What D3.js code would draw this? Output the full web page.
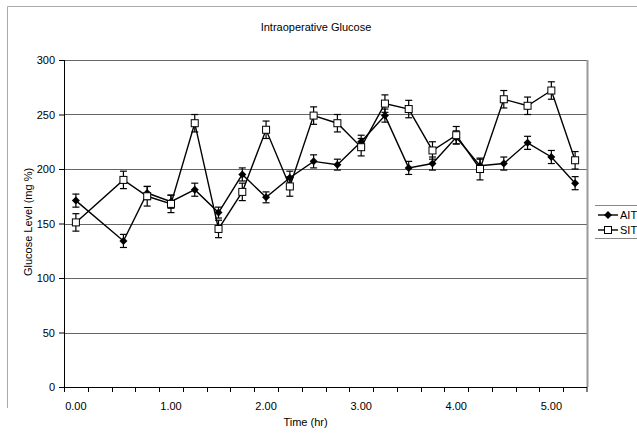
<!DOCTYPE html>
<html>
<head>
<meta charset="utf-8">
<script src="https://cdn.jsdelivr.net/npm/d3@7"></script>
<style>
  body { margin: 0; background: #fff; }
  text { font-family: "Liberation Sans", Arial, sans-serif; fill: #000; }
</style>
</head>
<body>
<div class="chart"></div>
<script>
var svgWidth = 637;
var svgHeight = 438;

// categories (hours) - 0.25 has no reading
var times = ["0.00", "0.25", "0.50", "0.75", "1.00", "1.25", "1.50", "1.75", "2.00", "2.25", "2.50",
             "2.75", "3.00", "3.25", "3.50", "3.75", "4.00", "4.25", "4.50", "4.75", "5.00", "5.25"];
var shownLabels = ["0.00", "1.00", "2.00", "3.00", "4.00", "5.00"];

var aitValues = [171, null, 134, 178, 170, 181, 160, 195, 174, 192, 207, 204, 225, 249, 201, 205, 229, 203, 205, 224, 211, 187];
var aitErrors = [6, null, 6, 6, 6, 6, 5, 6, 5, 6, 6, 5, 6, 6, 6, 6, 6, 6, 6, 6, 6, 6];
var sitValues = [151, null, 190, 175, 168, 242, 145, 179, 236, 184, 249, 242, 220, 260, 255, 217, 231, 200, 264, 258, 272, 208];
var sitErrors = [8, null, 8, 9, 8, 8, 8, 8, 8, 9, 8, 8, 8, 8, 8, 8, 8, 10, 8, 8, 8, 8];

var yTicks = [0, 50, 100, 150, 200, 250, 300];

var margin = { top: 60, right: 50, bottom: 51, left: 64 };
var width = svgWidth - margin.left - margin.right;
var height = svgHeight - margin.top - margin.bottom;

var svg = d3.select(".chart")
    .append("svg")
    .attr("width", svgWidth)
    .attr("height", svgHeight);

// faint outer chart border (left & top)
svg.append("path")
    .attr("d", "M7.5,408 V6.5 H637")
    .attr("fill", "none")
    .attr("stroke", "#aaa")
    .attr("stroke-width", 1);

var chartGroup = svg.append("g")
    .attr("transform", `translate(${margin.left}, ${margin.top})`);

var xScale = d3.scaleBand()
    .domain(times)
    .range([0, width])
    .padding(0);

var yScale = d3.scaleLinear()
    .domain([0, 300])
    .range([height, 0]);

var xc = d => xScale(d) + xScale.bandwidth() / 2;

// gridlines
chartGroup.selectAll(".grid")
    .data(yTicks.filter(t => t > 0))
    .enter()
    .append("line")
    .attr("x1", 0)
    .attr("x2", width)
    .attr("y1", d => Math.round(yScale(d)) + 0.5)
    .attr("y2", d => Math.round(yScale(d)) + 0.5)
    .attr("stroke", "#666")
    .attr("stroke-width", 1);

// right border of plot
chartGroup.append("line")
    .attr("x1", width + 0.5)
    .attr("x2", width + 0.5)
    .attr("y1", 0)
    .attr("y2", height)
    .attr("stroke", "#999")
    .attr("stroke-width", 2);

// y axis
var leftAxis = d3.axisLeft(yScale).tickValues(yTicks).tickSize(5).tickPadding(4);
var yAxisG = chartGroup.append("g").call(leftAxis);
yAxisG.select(".domain").attr("stroke", "#000").attr("d", `M0.5,${height}V0`);
yAxisG.selectAll("text").attr("font-size", "11px").attr("font-family", "Liberation Sans, Arial, sans-serif");

// x axis (labels at category centers, ticks between categories)
var bottomAxis = d3.axisBottom(xScale)
    .tickValues(shownLabels)
    .tickSize(0)
    .tickPadding(15);
var xAxisG = chartGroup.append("g")
    .attr("transform", `translate(0, ${height})`)
    .call(bottomAxis);
xAxisG.select(".domain").attr("stroke", "#000").attr("d", `M0,0.5H${width}`);
xAxisG.selectAll("text").attr("font-size", "11px").attr("font-family", "Liberation Sans, Arial, sans-serif");

xAxisG.selectAll(".btick")
    .data(times.concat(["end"]))
    .enter()
    .append("line")
    .attr("x1", d => d === "end" ? width : Math.round(xScale(d)) + 0.5)
    .attr("x2", d => d === "end" ? width : Math.round(xScale(d)) + 0.5)
    .attr("y1", 0)
    .attr("y2", 5)
    .attr("stroke", "#000");

// series
var series = [
    { name: "AIT", values: aitValues, errors: aitErrors, marker: "diamond" },
    { name: "SIT", values: sitValues, errors: sitErrors, marker: "square" }
];

var line = d3.line()
    .x(d => xc(d.t))
    .y(d => yScale(d.v));

series.forEach(function(s) {
    var pts = times.map((t, i) => ({ t: t, v: s.values[i], e: s.errors[i] }))
        .filter(d => d.v !== null);

    chartGroup.append("path")
        .datum(pts)
        .attr("d", line)
        .attr("fill", "none")
        .attr("stroke", "#000")
        .attr("stroke-width", 1.4);

    var eb = chartGroup.append("g");
    pts.forEach(function(d) {
        var x = xc(d.t);
        var y1 = yScale(d.v + d.e), y2 = yScale(d.v - d.e);
        eb.append("line").attr("x1", x).attr("x2", x).attr("y1", y1).attr("y2", y2)
            .attr("stroke", "#000").attr("stroke-width", 1.2);
        [y1, y2].forEach(function(yy) {
            eb.append("line").attr("x1", x - 3.5).attr("x2", x + 3.5).attr("y1", yy).attr("y2", yy)
                .attr("stroke", "#000").attr("stroke-width", 1.2);
        });
    });
});

function drawMarker(g, type, x, y) {
    if (type === "diamond") {
        g.append("path")
            .attr("d", `M${x},${y - 4}L${x + 4},${y}L${x},${y + 4}L${x - 4},${y}Z`)
            .attr("fill", "#000");
    } else {
        g.append("rect")
            .attr("x", x - 3.5).attr("y", y - 3.5)
            .attr("width", 7).attr("height", 7)
            .attr("fill", "#fff").attr("stroke", "#000").attr("stroke-width", 1);
    }
}

series.forEach(function(s) {
    var mg = chartGroup.append("g");
    times.forEach(function(t, i) {
        if (s.values[i] === null) return;
        drawMarker(mg, s.marker, xc(t), yScale(s.values[i]));
    });
});

// title
svg.append("text")
    .attr("x", 316)
    .attr("y", 31)
    .attr("text-anchor", "middle")
    .attr("font-size", "11px")
    .text("Intraoperative Glucose");

// axis titles
svg.append("text")
    .attr("transform", "translate(32, 222) rotate(-90)")
    .attr("text-anchor", "middle")
    .attr("font-size", "11px")
    .text("Glucose Level (mg %)");

svg.append("text")
    .attr("x", margin.left + width / 2 - 20)
    .attr("y", 426)
    .attr("text-anchor", "middle")
    .attr("font-size", "11px")
    .text("Time (hr)");

// legend
var legend = svg.append("g");
legend.append("line").attr("x1", 595).attr("x2", 637).attr("y1", 205.5).attr("y2", 205.5).attr("stroke", "#888");
legend.append("line").attr("x1", 595).attr("x2", 637).attr("y1", 238.5).attr("y2", 238.5).attr("stroke", "#888");
series.forEach(function(s, i) {
    var ly = 215 + i * 15;
    legend.append("line").attr("x1", 598).attr("x2", 618).attr("y1", ly).attr("y2", ly)
        .attr("stroke", "#000").attr("stroke-width", 1.4);
    drawMarker(legend, s.marker, 608, ly);
    legend.append("text")
        .attr("x", 620)
        .attr("y", ly + 4)
        .attr("font-size", "11px")
        .text(s.name);
});
</script>
</body>
</html>
